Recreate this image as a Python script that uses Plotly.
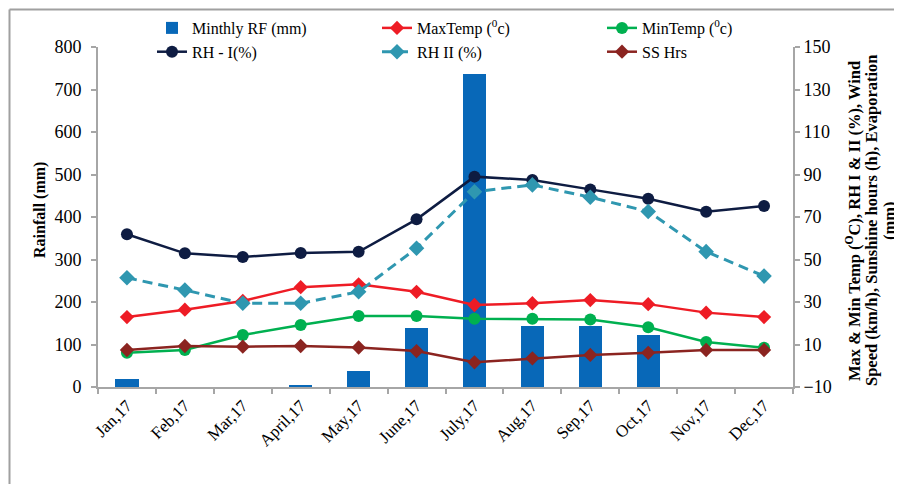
import plotly.graph_objects as go

months = ["Jan,17", "Feb,17", "Mar,17", "April,17", "May,17", "June,17",
          "July,17", "Aug,17", "Sep,17", "Oct,17", "Nov,17", "Dec,17"]
rainfall = [20, 0, 0, 5, 38, 140, 737, 143, 144, 122, 0, 0]
max_temp = [22.9, 26.4, 30.5, 37.0, 38.3, 34.8, 28.6, 29.4, 30.9, 29.0, 25.0, 22.9]
min_temp = [6.1, 7.4, 14.5, 19.2, 23.4, 23.4, 22.1, 22.1, 21.8, 18.1, 11.2, 8.5]
rh_1 = [61.9, 52.9, 51.2, 53.1, 53.6, 68.9, 89.0, 87.4, 83.0, 78.6, 72.5, 75.2]
rh_2 = [41.4, 35.6, 29.4, 29.4, 34.8, 55.3, 81.9, 85.1, 79.3, 72.6, 53.7, 42.2]
ss_hrs = [7.4, 9.3, 9.0, 9.3, 8.6, 6.9, 1.6, 3.5, 5.1, 6.1, 7.4, 7.4]

right_title_lines = ["Max &amp; Min Temp (<sup>O</sup>C), RH I &amp; II (%), Wind",
                     "Speed (km/h), Sunshine hours (h), Evaporation",
                     "(mm)"]

FONT = "Liberation Serif, Times New Roman, serif"
AXIS_COLOR = "#a6a6a6"

fig = go.Figure()

fig.add_trace(go.Bar(x=months, y=rainfall, name="Minthly RF (mm)",
                     marker=dict(color="#0868b8", line=dict(width=0)),
                     width=0.4, yaxis="y"))
fig.add_trace(go.Scatter(x=months, y=max_temp, name="MaxTemp (<sup>0</sup>c)", yaxis="y2",
                         mode="lines+markers",
                         line=dict(color="#ee1c25", width=2.5),
                         marker=dict(symbol="diamond", size=11, color="#ee1c25")))
fig.add_trace(go.Scatter(x=months, y=min_temp, name="MinTemp (<sup>0</sup>c)", yaxis="y2",
                         mode="lines+markers",
                         line=dict(color="#00b050", width=2.5),
                         marker=dict(symbol="circle", size=12, color="#00b050")))
fig.add_trace(go.Scatter(x=months, y=rh_1, name="RH - I(%)", yaxis="y2",
                         mode="lines+markers",
                         line=dict(color="#0e1c42", width=2.5),
                         marker=dict(symbol="circle", size=12, color="#0e1c42")))
fig.add_trace(go.Scatter(x=months, y=rh_2, name="RH II (%)", yaxis="y2",
                         mode="lines+markers",
                         line=dict(color="#2f97b0", width=3, dash="10px,6px"),
                         marker=dict(symbol="diamond", size=12, color="#2f97b0")))
fig.add_trace(go.Scatter(x=months, y=ss_hrs, name="SS Hrs", yaxis="y2",
                         mode="lines+markers",
                         line=dict(color="#8b2420", width=2.5),
                         marker=dict(symbol="diamond", size=11, color="#8b2420")))

# the page body has an 8px margin, so the figure sits at (8, 8) in the window
OFF = 8
W, H = 902 - OFF, 484 - OFF
PLOT_L, PLOT_R, PLOT_T, PLOT_B = 98, 793, 47, 387   # window pixels
L, R, T, B = PLOT_L - OFF, 902 - PLOT_R, PLOT_T - OFF, 484 - PLOT_B
pw, ph = PLOT_R - PLOT_L, PLOT_B - PLOT_T


def px_x(px):
    return (px - PLOT_L) / pw


def px_y(py):
    return (PLOT_B - py) / ph


annotations = [
    dict(text="<b>Rainfall (mm)</b>", xref="paper", yref="paper",
         x=px_x(40), y=px_y(210), textangle=-90, showarrow=False,
         xanchor="center", yanchor="middle", font=dict(size=16, family=FONT)),
]
for i, line in enumerate(right_title_lines):
    annotations.append(dict(text="<b>" + line + "</b>", xref="paper", yref="paper",
                            x=px_x(853 + 18 * i), y=px_y(221), textangle=-90,
                            showarrow=False, xanchor="center", yanchor="middle",
                            font=dict(size=16.5, family=FONT)))

FRAME = 9.5  # just inside the figure's top-left corner

fig.update_layout(
    width=W, height=H, autosize=False,
    margin=dict(l=L, r=R, t=T, b=B, pad=0, autoexpand=False),
    paper_bgcolor="white", plot_bgcolor="white",
    font=dict(family=FONT, size=16, color="black"),
    bargap=0,
    showlegend=True,
    legend=dict(orientation="h", x=px_x(152), xanchor="left",
                y=px_y(11), yanchor="top",
                entrywidth=180, entrywidthmode="pixels",
                bgcolor="rgba(0,0,0,0)", font=dict(size=16, family=FONT),
                traceorder="normal", tracegroupgap=0),
    xaxis=dict(type="category", range=[-0.5, 11.5],
               showline=True, linecolor=AXIS_COLOR, linewidth=2,
               ticks="outside", tickson="boundaries", ticklen=5,
               tickcolor=AXIS_COLOR, tickwidth=1.5,
               tickangle=-45, tickfont=dict(size=17), automargin=False,
               showgrid=False, zeroline=False),
    yaxis=dict(range=[0, 800], dtick=100, tick0=0,
               showline=True, linecolor=AXIS_COLOR, linewidth=2,
               ticks="outside", ticklen=5, tickcolor=AXIS_COLOR, tickwidth=1.5,
               ticklabelstandoff=6, automargin=False,
               tickfont=dict(size=18), showgrid=False, zeroline=False),
    yaxis2=dict(range=[-10, 150], dtick=20, tick0=-10,
                overlaying="y", side="right", automargin=False,
                showline=True, linecolor=AXIS_COLOR, linewidth=2,
                ticks="outside", ticklen=5, tickcolor=AXIS_COLOR, tickwidth=1.5,
                tickfont=dict(size=18), showgrid=False, zeroline=False),
    annotations=annotations,
    shapes=[
        dict(type="line", xref="paper", yref="paper",
             x0=px_x(FRAME), x1=px_x(905), y0=px_y(FRAME), y1=px_y(FRAME),
             line=dict(color="#a0a0a0", width=2)),
        dict(type="line", xref="paper", yref="paper",
             x0=px_x(FRAME), x1=px_x(FRAME), y0=px_y(FRAME), y1=px_y(490),
             line=dict(color="#a0a0a0", width=2)),
    ],
)

fig.write_html("out.html")
